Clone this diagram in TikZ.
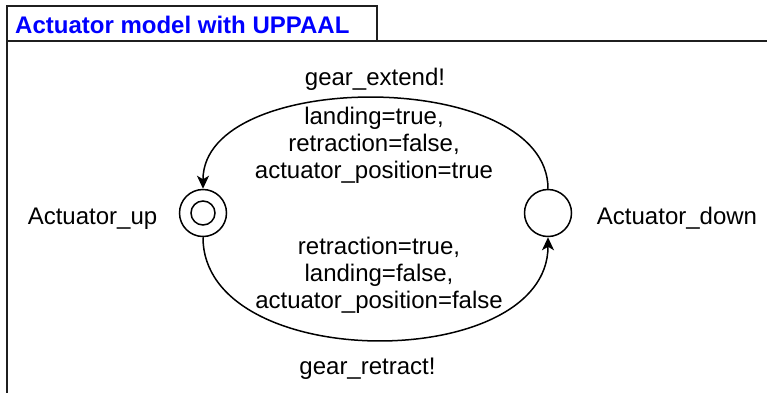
\documentclass[tikz,border=0pt]{standalone}
\usepackage{fontspec}
\setmainfont{Liberation Sans}
\usetikzlibrary{arrows.meta}
\definecolor{titleblue}{RGB}{0,0,255}
\tikzset{
  frameline/.style={line width=2pt, draw=black!88},
  statenode/.style={circle, draw, line width=1.5pt, minimum size=47pt, inner sep=0pt},
  initinner/.style={circle, draw, line width=1.5pt, minimum size=24pt, inner sep=0pt},
  edge/.style={line width=1.5pt, -{Stealth[length=13pt,width=12pt,inset=3.5pt]}},
  lbl/.style={font=\fontsize{24}{27}\selectfont, inner sep=0pt, anchor=base},
  multilbl/.style={font=\fontsize{24}{27}\selectfont, inner sep=0pt, align=center, anchor=base},
  titletext/.style={font=\fontsize{24}{27}\selectfont\bfseries, text=titleblue, inner sep=0pt, anchor=base west}
}
\begin{document}
\begin{tikzpicture}[x=1pt, y=-1pt]
\useasboundingbox (0,0) rectangle (767,392);
% frame
\draw[frameline] (7,41) rectangle (377,6);
\draw[frameline] (377,41) -- (767,41);
\draw[frameline] (7,41) -- (7,393);
\node[titletext] (title) at (15,33) {Actuator model with UPPAAL};
% states
\node[statenode] (up) at (203,213) {};
\node[initinner] (upinner) at (up) {};
\node[statenode] (down) at (548,213) {};
\node[lbl] (uplabel) at (92.5,224) {Actuator\_up};
\node[lbl] (downlabel) at (677,224) {Actuator\_down};
% edges
\draw[edge] (down.north) .. controls (548,68) and (203,68) .. (up.north);
\draw[edge] (up.south) .. controls (203,374) and (548,374) .. (down.south);
% labels (base = baseline of last line)
\node[lbl] (extend) at (375,85) {gear\_extend!};
\node[multilbl] (extendupd) at (374,178.5) {landing=true,\\retraction=false,\\actuator\_position=true};
\node[multilbl] (retractupd) at (379,308) {retraction=true,\\landing=false,\\actuator\_position=false};
\node[lbl] (retract) at (367.5,374) {gear\_retract!};
\end{tikzpicture}
\end{document}
